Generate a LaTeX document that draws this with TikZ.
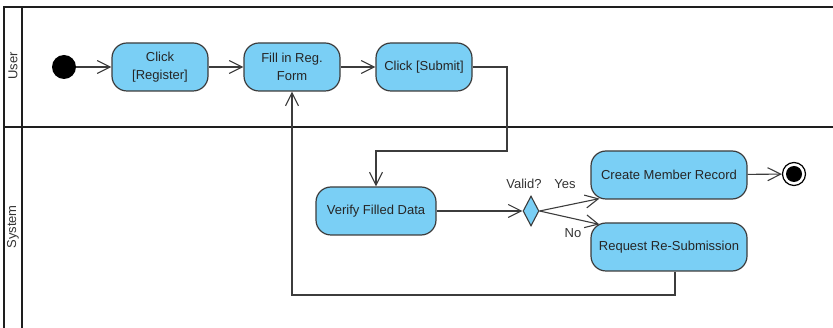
\documentclass[tikz,border=0pt]{standalone}
\usepackage{fontspec}
\setmainfont{Liberation Sans}
\usetikzlibrary{arrows.meta,shapes.geometric}
\definecolor{actfill}{RGB}{122,207,245}
\definecolor{edgecol}{RGB}{60,60,60}
\definecolor{lanecol}{RGB}{30,30,30}
\begin{document}
\begin{tikzpicture}[x=1pt,y=-1pt,
 act/.style={draw=edgecol,fill=actfill,line width=1.2pt,rounded corners=15pt,minimum width=96pt,minimum height=48pt,align=center,inner sep=0pt,font=\fontsize{13}{18}\selectfont,text=black!85},
 flow/.style={draw=edgecol,line width=1.1pt,-{Straight Barb[length=13pt,width=13pt,line width=1.1pt]}},
 lab/.style={font=\fontsize{13}{15}\selectfont,text=black!80},
 laneline/.style={draw=lanecol,line width=2pt}]
\useasboundingbox (0,0) rectangle (833,328);
% swimlanes
\draw[laneline] (4,328) -- (4,7) -- (833,7);
\draw[laneline] (22,7) -- (22,328);
\draw[laneline] (4,127) -- (833,127);
\node[lab,rotate=90] (user) at (13,66) {User};
\node[lab,rotate=90] (system) at (13,227) {System};
% nodes
\node[circle,fill=black,minimum size=24pt,inner sep=0pt] (init) at (64,67) {};
\node[act] (reg) at (160,67) {Click\\{}[Register]};
\node[act] (fill) at (292,67) {Fill in Reg.\\Form};
\node[act] (submit) at (424,67) {Click [Submit]};
\node[act,minimum width=120pt] (verify) at (376,211) {Verify Filled Data};
\node[diamond,draw=edgecol,fill=actfill,line width=1.1pt,minimum width=16pt,minimum height=30pt,inner sep=0pt] (dec) at (531,211) {};
\node[act,minimum width=156pt] (create) at (669,175) {Create Member Record};
\node[act,minimum width=156pt] (request) at (669,247) {Request Re-Submission};
\node[circle,draw=black,line width=1.2pt,fill=white,minimum size=23pt,inner sep=0pt] (final) at (794,174) {};
\node[circle,fill=black,minimum size=16pt,inner sep=0pt] (finalin) at (794,174) {};
% labels
\node[lab] (valid) at (524,184) {Valid?};
\node[lab] (yes) at (565,184) {Yes};
\node[lab] (no) at (573,233) {No};
% connectors
\draw[flow] (init) -- (reg);
\draw[flow] (reg) -- (fill);
\draw[flow] (fill) -- (submit);
\coordinate (c1) at (507,151);
\draw[flow] (submit.east) -| (c1) -| (verify.north);
\draw[flow] (verify) -- (dec);
\draw[flow] (dec.east) -- ([shift={(9,-1)}]create.south west);
\draw[flow] (dec.east) -- ([shift={(9,2)}]request.north west);
\draw[flow] (create) -- (final);
\coordinate (c2) at (675,295);
\draw[flow] (request.south -| c2) -- (c2) -| (fill.south);
\end{tikzpicture}
\end{document}
